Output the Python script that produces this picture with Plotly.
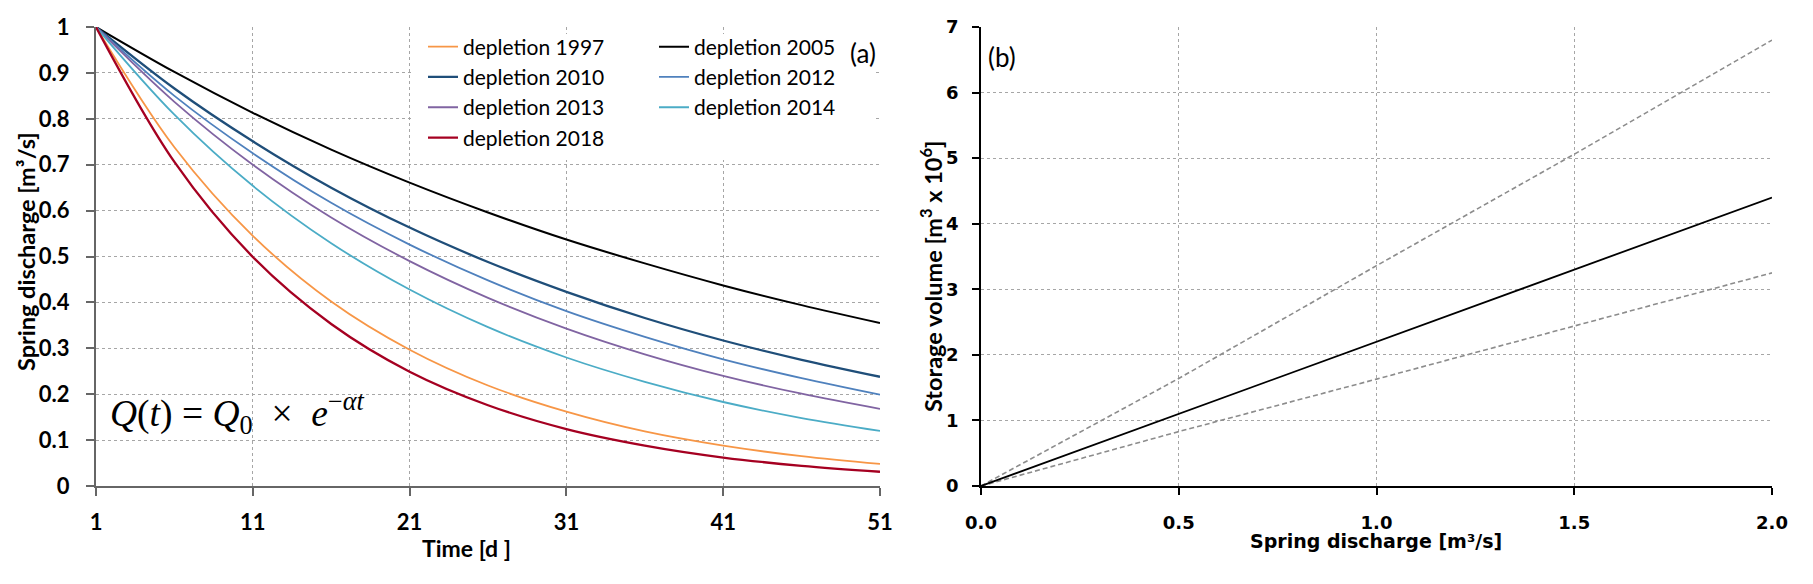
import plotly.graph_objects as go

# ---------------- data ----------------
days = [1, 6, 11, 16, 21, 26, 31, 36, 41, 46, 51]
q_1997 = [1.0, 0.738, 0.545, 0.402, 0.297, 0.219, 0.162, 0.119, 0.088, 0.065, 0.048]
q_2005 = [1.0, 0.902, 0.813, 0.733, 0.661, 0.596, 0.537, 0.485, 0.437, 0.394, 0.355]
q_2010 = [1.0, 0.866, 0.751, 0.650, 0.563, 0.488, 0.423, 0.366, 0.317, 0.275, 0.238]
q_2012 = [1.0, 0.850, 0.725, 0.617, 0.526, 0.448, 0.381, 0.325, 0.276, 0.235, 0.199]
q_2013 = [1.0, 0.837, 0.700, 0.585, 0.490, 0.410, 0.343, 0.287, 0.240, 0.201, 0.168]
q_2014 = [1.0, 0.809, 0.654, 0.529, 0.428, 0.346, 0.280, 0.227, 0.183, 0.148, 0.120]
q_2018 = [1.0, 0.706, 0.499, 0.353, 0.249, 0.176, 0.124, 0.088, 0.062, 0.044, 0.031]

series_names = ["depletion 1997", "depletion 2005", "depletion 2010", "depletion 2012",
                "depletion 2013", "depletion 2014", "depletion 2018"]
series_values = [q_1997, q_2005, q_2010, q_2012, q_2013, q_2014, q_2018]

discharge = [0.0, 0.5, 1.0, 1.5, 2.0]
storage_mid = [0.0, 1.10, 2.21, 3.30, 4.40]
storage_upper = [0.0, 1.64, 3.36, 5.06, 6.80]
storage_lower = [0.0, 0.83, 1.63, 2.44, 3.25]

x_ticks_a = [1, 11, 21, 31, 41, 51]

# ---------------- styles ----------------
colors = ["#F79646", "#000000", "#1F4E79", "#4F81BD", "#8064A2", "#4BACC6", "#A50021"]
widths = [1.8, 2.0, 2.3, 1.8, 1.8, 1.8, 2.3]
legends = ["legend", "legend2", "legend", "legend2", "legend", "legend2", "legend"]

CAL = "Lato, 'Open Sans', sans-serif"
VER = "'DejaVu Sans', Verdana, sans-serif"

fig = go.Figure()

for name, vals, col, w, lg in zip(series_names, series_values, colors, widths, legends):
    fig.add_trace(go.Scatter(
        x=days, y=vals, name=name, mode="lines",
        line=dict(color=col, width=w, shape="spline", smoothing=1.0),
        xaxis="x", yaxis="y", legend=lg))

fig.add_trace(go.Scatter(x=discharge, y=storage_upper, mode="lines", showlegend=False,
                         line=dict(color="#8C8C8C", width=1.6, dash="5px,3px"),
                         xaxis="x2", yaxis="y2"))
fig.add_trace(go.Scatter(x=discharge, y=storage_lower, mode="lines", showlegend=False,
                         line=dict(color="#8C8C8C", width=1.6, dash="5px,3px"),
                         xaxis="x2", yaxis="y2"))
fig.add_trace(go.Scatter(x=discharge, y=storage_mid, mode="lines", showlegend=False,
                         line=dict(color="#000000", width=1.8),
                         xaxis="x2", yaxis="y2"))

W, H = 1813, 584
ydom = [1 - 486 / H, 1 - 27 / H]

grid = dict(showgrid=True, gridcolor="#A6A6A6", gridwidth=1, griddash="dot", zeroline=False)


def ann(text, x, y, size, family=CAL, angle=0, xanchor="center"):
    return dict(text=text, x=x / W, y=1 - y / H, xref="paper", yref="paper",
                xanchor=xanchor, yanchor="middle", textangle=angle, showarrow=False,
                font=dict(family=family, size=size, color="black"))


fig.update_layout(
    width=W, height=H,
    margin=dict(l=0, r=0, t=0, b=0),
    paper_bgcolor="white", plot_bgcolor="white",
    xaxis=dict(domain=[96 / W, 880 / W], range=[1, 51], tickvals=x_ticks_a,
               showline=True, linecolor="#666666", linewidth=2,
               ticks="outside", ticklen=8, tickcolor="#666666", tickwidth=1.5,
               ticklabelstandoff=8,
               tickfont=dict(family=CAL, size=22, color="black", weight="bold"),
               automargin=False, anchor="y", **grid),
    yaxis=dict(domain=ydom, range=[0, 1], dtick=0.1,
               showline=True, linecolor="#666666", linewidth=2,
               ticks="outside", ticklen=8, tickcolor="#666666", tickwidth=1.5,
               ticklabelstandoff=12,
               tickfont=dict(family=CAL, size=22, color="black", weight="bold"),
               automargin=False, anchor="x", **grid),
    xaxis2=dict(domain=[981 / W, 1772 / W], range=[0, 2], dtick=0.5, tickformat=".1f",
                showline=True, linecolor="#000000", linewidth=1.8,
                ticks="outside", ticklen=7, tickcolor="#000000", tickwidth=1.5,
                ticklabelstandoff=12,
                tickfont=dict(family=VER, size=18, color="black", weight="bold"),
                automargin=False, anchor="y2", **grid),
    yaxis2=dict(domain=ydom, range=[0, 7], dtick=1,
                showline=True, linecolor="#000000", linewidth=1.8,
                ticks="outside", ticklen=7, tickcolor="#000000", tickwidth=1.5,
                ticklabelstandoff=10,
                tickfont=dict(family=VER, size=18, color="black", weight="bold"),
                automargin=False, anchor="x2", **grid),
    legend=dict(x=423 / W, y=1 - 26.5 / H, xanchor="left", yanchor="top",
                bgcolor="rgba(0,0,0,0)", borderwidth=0, itemwidth=30,
                font=dict(family=CAL, size=21, color="black"), tracegroupgap=0),
    legend2=dict(x=654 / W, y=1 - 26.5 / H, xanchor="left", yanchor="top",
                 bgcolor="rgba(0,0,0,0)", borderwidth=0, itemwidth=30,
                 font=dict(family=CAL, size=21, color="black"), tracegroupgap=0),
    shapes=[dict(type="rect", xref="x", yref="y", x0=21.2, x1=50.7, y0=0.71, y1=0.985,
                 fillcolor="white", line=dict(width=0), layer="between")],
    annotations=[
        ann("(a)", 863, 53, 26),
        ann("(b)", 1002, 57, 26),
        ann("<i>Q</i>(<i>t</i>) = <i>Q</i><sub>0</sub>  ×  <i>e</i><sup>−<i>αt</i></sup>",
            108, 413, 37.5, family="'Liberation Serif', 'DejaVu Serif', serif", xanchor="left"),
        ann("<b>Time [d ]</b>", 467, 548, 23),
        ann("<b>Spring discharge [m³/s]</b>", 26, 252, 23.5, angle=-90),
        ann("<b>Spring discharge [m³/s]</b>", 1376, 541, 19, family=VER),
        ann("<b>Storage volume [m<sup>3</sup> x 10<sup>6</sup>]</b>", 931, 277, 23.5, angle=-90),
    ],
)

fig.write_html("out.html", config={"displayModeBar": False},
               post_script="document.body.style.margin='0px';")
